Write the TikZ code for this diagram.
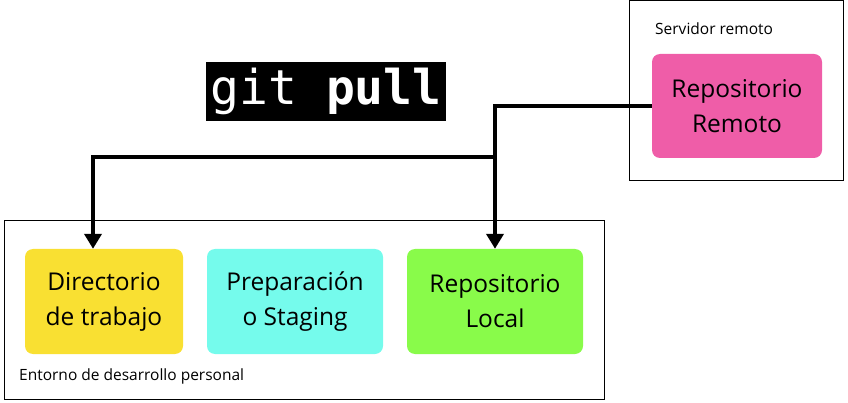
\documentclass[tikz,border=0pt]{standalone}
\usepackage{fontspec}
\setmainfont{Open Sans}
\newfontfamily\codefont{DejaVu Sans Mono}
\usetikzlibrary{shapes,arrows.meta,positioning,fit}
\usepackage{xcolor}
\definecolor{yellowcustom}{RGB}{249,224,50}
\definecolor{cyancustom}{RGB}{117,251,236}
\definecolor{greencustom}{RGB}{137,251,74}
\definecolor{pinkcustom}{RGB}{239,93,168}

\begin{document}
\begin{tikzpicture}[x=1pt, y=-1pt,
    area/.style={draw=black, line width=1pt, rectangle, inner sep=0pt},
    zona/.style={rectangle, rounded corners=8pt, inner sep=0pt, minimum height=105pt, align=center, font=\fontsize{24.5}{35}\selectfont},
    etiqueta/.style={anchor=west, inner sep=0pt, font=\fontsize{15.5}{18}\selectfont},
    flecha/.style={line width=4.5pt, -{Triangle[width=17pt,length=15pt]}}]
    \useasboundingbox (0,0) rectangle (848,403);

    % areas
    \node[area, minimum width=600pt, minimum height=178pt] (entorno) at (304,310) {};
    \node[area, minimum width=214pt, minimum height=180pt] (servidor) at (736,91) {};
    \node[etiqueta] (lblentorno) at (19,376) {Entorno de desarrollo personal};
    \node[etiqueta] (lblservidor) at (655,29) {Servidor remoto};

    % titulo
    \node[fill=black, text=white, inner sep=0pt, minimum width=240pt, minimum height=59pt, font=\codefont\fontsize{48}{48}\selectfont] (titulo) at (326,91.5) {git \textbf{pull}};

    % zonas
    \node[zona, fill=yellowcustom, minimum width=158pt] (dir) at (104,301.5) {Directorio\\de trabajo};
    \node[zona, fill=cyancustom, minimum width=176pt] (prep) at (295,301.5) {Preparación\\o Staging};
    \node[zona, fill=greencustom, minimum width=176pt] (local) at (495,301.5) {Repositorio\\Local};
    \node[zona, fill=pinkcustom, minimum width=170pt, minimum height=104pt] (remoto) at (737,106) {Repositorio\\Remoto};

    % conexiones
    \coordinate (codo) at (495,157);
    \draw[flecha] (remoto.west) -| (local.north);
    \draw[flecha] (codo) -| ([xshift=-11pt]dir.north);
\end{tikzpicture}
\end{document}
